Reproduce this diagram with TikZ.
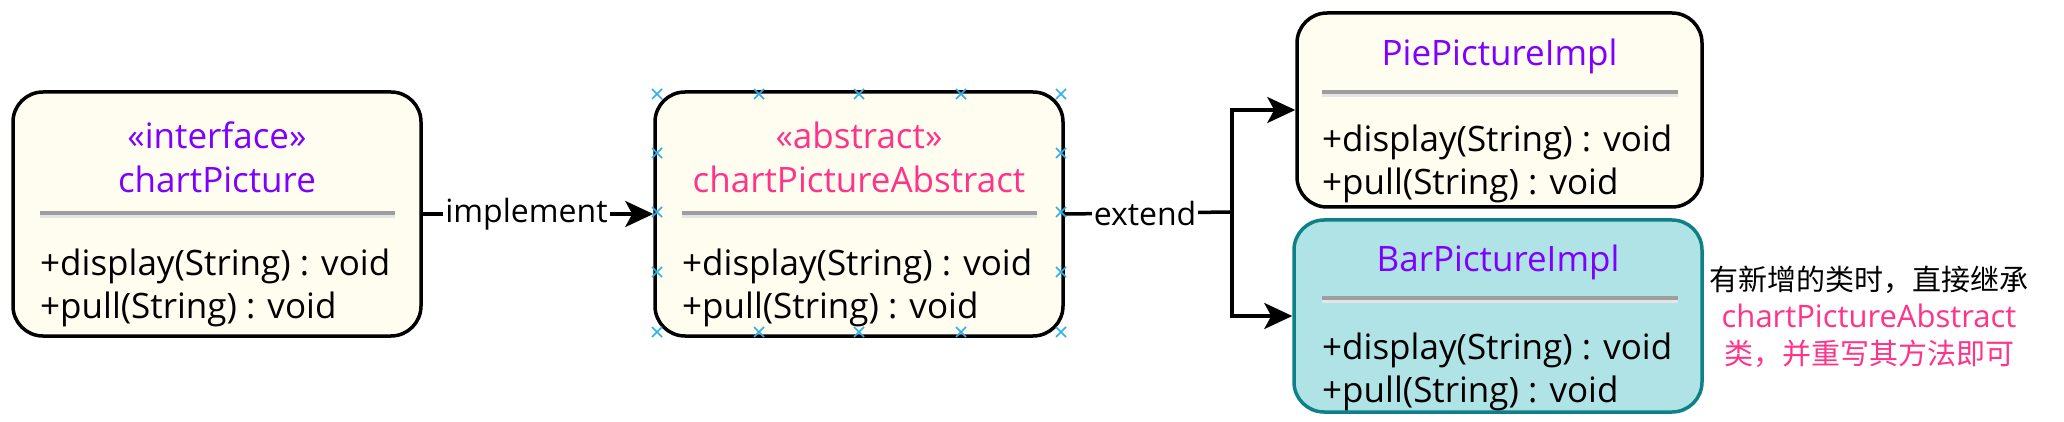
\documentclass[tikz,border=0pt]{standalone}
\usepackage{fontspec}
\setmainfont{Open Sans}
\newfontfamily\cjk{Noto Sans CJK SC}
\usetikzlibrary{arrows.meta}
\definecolor{cream}{HTML}{FFFDF0}
\definecolor{barfill}{HTML}{B0E3E6}
\definecolor{barline}{HTML}{0E8088}
\definecolor{ttlpurple}{HTML}{7F00FF}
\definecolor{ttlpink}{HTML}{FF3388}
\definecolor{handle}{HTML}{2CB0EE}
\tikzset{
  umlbox/.style={draw=black, fill=cream, line width=3.5pt, rounded corners=30pt, inner sep=0pt},
  ttl/.style={font=\fontsize{35}{44}\selectfont, text=ttlpurple, align=center, inner sep=0pt},
  attr/.style={font=\fontsize{35}{43}\selectfont, anchor=west, align=left, inner sep=0pt},
  conn/.style={line width=3.5pt, -{Stealth[length=28pt,width=26pt,inset=7pt]}},
  plainconn/.style={line width=3.5pt},
  lbl/.style={font=\fontsize{32}{36}\selectfont, fill=white, inner sep=2pt},
  divdark/.style={draw=black!38, line width=3.5pt},
  divlight/.style={draw=black!10, line width=3pt},
  hmark/.style={draw=handle, line width=1.6pt}
}
\begin{document}
\begin{tikzpicture}[x=1pt,y=-1pt]
\useasboundingbox (0,0) rectangle (2064,422);
% boxes
\node[umlbox, minimum width=408pt, minimum height=244pt] (iface) at (217,214) {};
\node[umlbox, minimum width=408pt, minimum height=244pt] (abs) at (859,214) {};
\node[umlbox, minimum width=405pt, minimum height=194pt] (pie) at (1499.5,110) {};
\node[umlbox, draw=barline, fill=barfill, minimum width=408pt, minimum height=192pt] (bar) at (1498,316) {};
% interface contents
\node[ttl] (ifaceT) at (217,157) {«interface»\\chartPicture};
\draw[divdark] (40,213) -- (395,213);
\draw[divlight] (40,216.5) -- (395,216.5);
\node[attr] (ifaceA) at (40,288) {+display(String) : void\\+pull(String) : void};
% abstract contents
\node[ttl, text=ttlpink] (absT) at (859,157) {«abstract»\\chartPictureAbstract};
\draw[divdark] (682,213) -- (1037,213);
\draw[divlight] (682,216.5) -- (1037,216.5);
\node[attr] (absA) at (682,288) {+display(String) : void\\+pull(String) : void};
% pie contents
\node[ttl] (pieT) at (1499.5,56) {PiePictureImpl};
\draw[divdark] (1322,92) -- (1678,92);
\draw[divlight] (1322,95.5) -- (1678,95.5);
\node[attr] (pieA) at (1322,164) {+display(String) : void\\+pull(String) : void};
% bar contents
\node[ttl] (barT) at (1498,262) {BarPictureImpl};
\draw[divdark] (1322,298) -- (1678,298);
\draw[divlight] (1322,301.5) -- (1678,301.5);
\node[attr] (barA) at (1322,372) {+display(String) : void\\+pull(String) : void};
% note
\node[align=center, inner sep=0pt, font=\fontsize{29}{37}\selectfont] (note) at (1869,317)
  {{\cjk 有新增的类时，直接继承}\\\textcolor{ttlpink}{\fontsize{31}{37}\selectfont chartPictureAbstract}\\\textcolor{ttlpink}{\cjk 类，并重写其方法即可}};
% connectors
\draw[conn] (iface.east) -- node[lbl, pos=0.45] (implLbl) {implement} (abs.west);
\coordinate (split) at (1232,212);
\draw[plainconn] (abs.east) -- node[lbl, pos=0.48] (extLbl) {extend} (split);
\draw[conn] (split) |- (pie.west);
\draw[conn] (split) |- (bar.west);
% selection handles
\foreach \hx in {657,759,859,961,1061}{
  \foreach \hy in {94,332}{
    \draw[hmark] (\hx-5,\hy-5) -- (\hx+5,\hy+5) (\hx-5,\hy+5) -- (\hx+5,\hy-5);
  }
}
\foreach \hx in {657,1061}{
  \foreach \hy in {153,212,272}{
    \draw[hmark] (\hx-5,\hy-5) -- (\hx+5,\hy+5) (\hx-5,\hy+5) -- (\hx+5,\hy-5);
  }
}
\end{tikzpicture}
\end{document}
